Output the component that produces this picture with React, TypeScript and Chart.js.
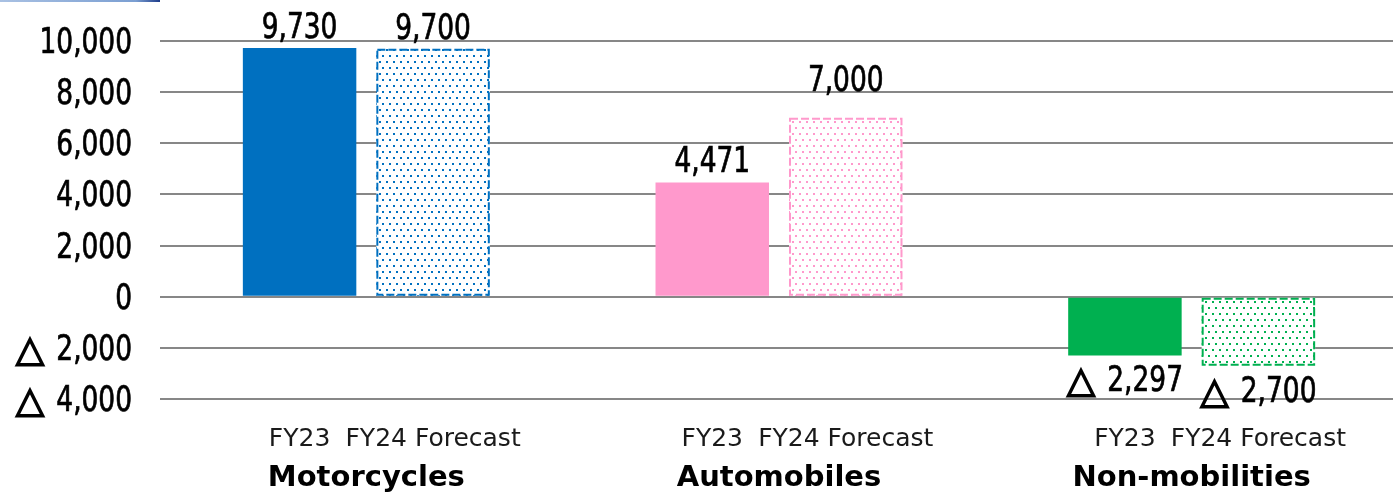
import React, { useEffect, useRef } from "react";
import { Chart, registerables } from "chart.js";

Chart.register(...registerables);

// Segments and fiscal-year series (operating profit, 100 million yen)
const categories = ["Motorcycles", "Automobiles", "Non-mobilities"];
const seriesNames = ["FY23", "FY24 Forecast"];
const fy23Values = [9730, 4471, -2297];
const fy24ForecastValues = [9700, 7000, -2700];
const segmentColors = ["#0070C0", "#FF99CC", "#00B050"];
const yMin = -4000;
const yMax = 10000;
const yStep = 2000;

const CONDENSED = "'DejaVu Sans Condensed', 'DejaVu Sans', sans-serif";
const SANS = "'DejaVu Sans', Verdana, sans-serif";
const NUM_SIZE = 35;
const NUM_SQUEEZE = 0.84;
const MINUS_MARK = "\u25B3";
const MARK_GAP = 12;

const formatValue = (v: number) =>
  v < 0 ? MINUS_MARK + " " + Math.abs(v).toLocaleString("en-US") : v.toLocaleString("en-US");

// Dotted fill used for the forecast bars
function makeDotPattern(color: string): CanvasPattern | string {
  const c = document.createElement("canvas");
  c.width = 14;
  c.height = 12;
  const ctx = c.getContext("2d");
  if (!ctx) return color;
  ctx.fillStyle = "#ffffff";
  ctx.fillRect(0, 0, 14, 12);
  ctx.fillStyle = color;
  ctx.fillRect(1, 1, 2, 2);
  ctx.fillRect(8, 1, 2, 2);
  ctx.fillRect(4, 7, 2, 2);
  ctx.fillRect(11, 7, 2, 2);
  return ctx.createPattern(c, "repeat") || color;
}

// Numbers use a squeezed condensed face; negatives carry a △ mark in front
function drawNumber(ctx: CanvasRenderingContext2D, value: number, x: number, y: number, align: "right" | "center") {
  const digits = Math.abs(value).toLocaleString("en-US");
  ctx.save();
  ctx.fillStyle = "#000000";
  ctx.strokeStyle = "#000000";
  ctx.textBaseline = "alphabetic";
  ctx.font = `${NUM_SIZE}px ${CONDENSED}`;
  const numW = ctx.measureText(digits).width * NUM_SQUEEZE;
  const markFont = `37px ${SANS}`;
  ctx.font = markFont;
  const markW = value < 0 ? ctx.measureText(MINUS_MARK).width : 0;
  const total = value < 0 ? markW + MARK_GAP + numW : numW;
  const right = align === "right" ? x : x + total / 2;
  const left = right - total;
  if (value < 0) {
    ctx.font = markFont;
    ctx.textAlign = "left";
    ctx.lineWidth = 1.6;
    ctx.fillText(MINUS_MARK, left, y + 1);
    ctx.strokeText(MINUS_MARK, left, y + 1);
  }
  ctx.translate(right, y);
  ctx.scale(NUM_SQUEEZE, 1);
  ctx.font = `${NUM_SIZE}px ${CONDENSED}`;
  ctx.textAlign = "right";
  ctx.lineWidth = 0.7;
  ctx.fillText(digits, 0, 0);
  ctx.strokeText(digits, 0, 0);
  ctx.restore();
}

// Y tick labels, dashed outlines for the forecast bars, value labels and series names
const annotatePlugin = {
  id: "annotateBars",
  afterDraw(chart: any) {
    const { ctx, chartArea } = chart;
    const yScale = chart.scales.y;
    yScale.ticks.forEach((t: any) => {
      const py = yScale.getPixelForValue(t.value);
      drawNumber(ctx, t.value, chartArea.left - 28, py + 12, "right");
    });
  },
  afterDatasetsDraw(chart: any) {
    const { ctx, chartArea } = chart;
    ctx.save();
    const fMeta = chart.getDatasetMeta(1);
    fMeta.data.forEach((el: any, i: number) => {
      const { x, y, base, width } = el.getProps(["x", "y", "base", "width"], true);
      const top = Math.min(y, base);
      const h = Math.abs(base - y);
      ctx.strokeStyle = segmentColors[i];
      ctx.lineWidth = 2;
      ctx.setLineDash([8, 3]);
      ctx.strokeRect(x - width / 2 + 1, top + 1, width - 2, h - 2);
    });
    ctx.setLineDash([]);

    const labelNudge: Record<string, number> = { "1-1": 17 };
    chart.data.datasets.forEach((ds: any, di: number) => {
      const meta = chart.getDatasetMeta(di);
      meta.data.forEach((el: any, i: number) => {
        const v = ds.data[i] as number;
        const { x, y } = el.getProps(["x", "y"], true);
        const nudge = labelNudge[`${di}-${i}`] || 0;
        if (v >= 0) drawNumber(ctx, v, x, y - 10 - nudge, "center");
        else drawNumber(ctx, v, x, y + 36, "center");

        ctx.font = `25px ${SANS}`;
        ctx.fillStyle = "#1a1a1a";
        ctx.textAlign = "center";
        ctx.textBaseline = "alphabetic";
        ctx.fillText(seriesNames[di], x, chartArea.bottom + 47);
      });
    });
    ctx.restore();
  },
};

export default function App() {
  const canvasRef = useRef<HTMLCanvasElement | null>(null);

  useEffect(() => {
    document.body.style.margin = "0";
    const canvas = canvasRef.current;
    if (!canvas) return;
    const chart = new Chart(canvas, {
      type: "bar",
      data: {
        labels: categories,
        datasets: [
          {
            label: seriesNames[0],
            data: fy23Values,
            backgroundColor: segmentColors,
            borderWidth: 0,
          },
          {
            label: seriesNames[1],
            data: fy24ForecastValues,
            backgroundColor: segmentColors.map((c) => makeDotPattern(c)),
            borderWidth: 0,
          },
        ],
      },
      options: {
        animation: false,
        responsive: false,
        devicePixelRatio: 1,
        layout: { padding: { top: 41, left: 0, right: 0, bottom: 0 } },
        datasets: {
          bar: { categoryPercentage: 0.647, barPercentage: 0.85 },
        },
        plugins: {
          legend: { display: false },
          tooltip: { enabled: false },
          title: { display: false },
        },
        scales: {
          x: {
            grid: { display: false, drawTicks: false },
            border: { display: false },
            afterFit: (scale: any) => {
              scale.height = 95;
            },
            ticks: {
              padding: 62,
              color: "#000000",
              maxRotation: 0,
              autoSkip: false,
              font: { family: SANS, size: 29, weight: "bold" },
            },
          },
          y: {
            min: yMin,
            max: yMax,
            afterFit: (scale: any) => {
              scale.width = 160;
            },
            ticks: {
              display: false,
              stepSize: yStep,
              autoSkip: false,
              callback: (v: any) => formatValue(Number(v)),
            },
            grid: { color: "#878787", lineWidth: 2, drawTicks: false },
            border: { display: false },
          },
        },
      },
      plugins: [annotatePlugin],
    });
    return () => chart.destroy();
  }, []);

  return (
    <div style={{ position: "absolute", left: 0, top: 0, width: 1393, height: 494, overflow: "hidden", background: "#ffffff" }}>
      <div
        style={{
          position: "absolute",
          left: 0,
          top: 0,
          width: 160,
          height: 2,
          background: "linear-gradient(to right, #a9c1e3, #7b9fd2 85%, #1d3c8a)",
        }}
      />
      <canvas ref={canvasRef} width={1398} height={494} style={{ display: "block" }} />
    </div>
  );
}
